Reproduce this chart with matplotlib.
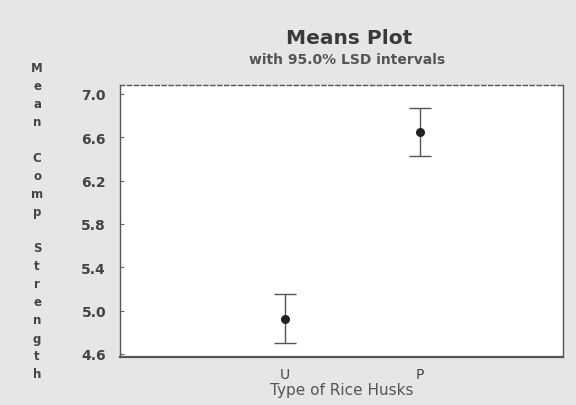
import matplotlib.pyplot as plt

# Means with 95% LSD intervals
groups = ['U', 'P']
means = [4.92, 6.65]
lower = [4.70, 6.43]
upper = [5.15, 6.87]
yticks = [4.6, 5.0, 5.4, 5.8, 6.2, 6.6, 7.0]

fig = plt.figure(figsize=(5.76, 4.06), dpi=100)
fig.patch.set_facecolor('#e6e6e4')
ax = fig.add_axes([120 / 576, 1 - 358 / 406, 443 / 576, 272 / 406])
ax.set_facecolor('white')

x = [1, 2]
err = [[m - l for m, l in zip(means, lower)], [u - m for m, u in zip(means, upper)]]
ax.errorbar(x, means, yerr=err, fmt='o', color='#222222', ms=5.5,
            ecolor='#555555', elinewidth=1, capsize=8, capthick=1)

ax.set_xlim(-0.22, 3.06)
ax.set_ylim(4.572, 7.083)
ax.set_xticks(x)
ax.set_xticklabels(groups, fontsize=10, color='#444444')
ax.set_yticks(yticks)
ax.set_yticklabels(['%.1f' % v for v in yticks], fontsize=10, color='#444444',
                   fontweight='bold')
ax.tick_params(axis='y', direction='in', length=3, pad=10, color='#666666')
ax.tick_params(axis='x', length=0, pad=7)
for s in ax.spines.values():
    s.set_color('#555555')
    s.set_linewidth(1)
ax.spines['top'].set_linestyle((0, (3, 2)))
ax.spines['bottom'].set_linestyle((0, (4, 1)))
ax.spines['bottom'].set_linewidth(1.6)

ax.set_xlabel('Type of Rice Husks', fontsize=11, color='#555555', labelpad=1)

fig.text(349 / 576, 1 - 39 / 406, 'Means Plot', ha='center', va='center',
         fontsize=14.5, fontweight='bold', color='#3a3a3a')
fig.text(347 / 576, 1 - 60 / 406, 'with 95.0% LSD intervals', ha='center',
         va='center', fontsize=10, fontweight='bold', color='#555555')

ylab = '\n'.join('Mean Comp Strength')
fig.text(37 / 576, 1 - 222 / 406, ylab, ha='center', va='center',
         fontsize=8.5, fontweight='bold', color='#444444', linespacing=1.5)

fig.savefig('out.png', dpi=100, facecolor=fig.get_facecolor())
